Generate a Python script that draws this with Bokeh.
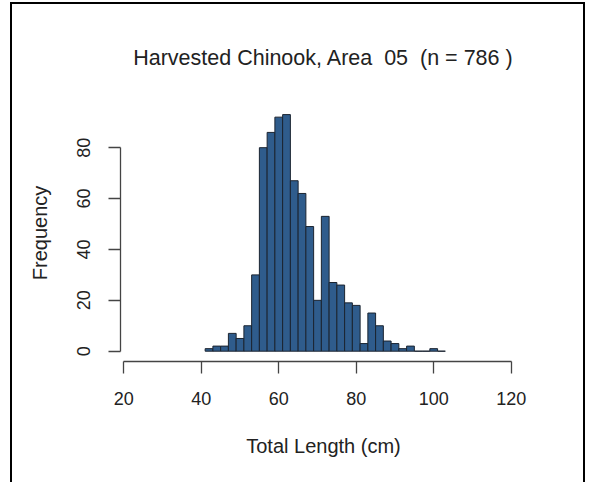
from bokeh.plotting import figure
from bokeh.models import ColumnDataSource, FixedTicker, Range1d
from bokeh.embed import file_html
from bokeh.resources import INLINE

# ---- data ----
bin_left = [41, 43, 45, 47, 49, 51, 53, 55, 57, 59, 61, 63, 65, 67, 69, 71,
            73, 75, 77, 79, 81, 83, 85, 87, 89, 91, 93, 95, 97, 99, 101]
bin_width = 2
counts = [1, 2, 2, 7, 5, 10, 30, 80, 86, 92, 93, 67, 62, 49, 20, 53,
          27, 26, 19, 18, 3, 15, 10, 4, 3, 1, 2, 0, 0, 1, 0]
x_ticks = [20, 40, 60, 80, 100, 120]
y_ticks = [0, 20, 40, 60, 80]
title_text = "Harvested Chinook, Area\u00a0 05\u00a0 (n = 786 )"
x_label = "Total Length (cm)"
y_label = "Frequency"

src = ColumnDataSource(dict(
    left=bin_left,
    right=[b + bin_width for b in bin_left],
    top=counts,
    bottom=[0] * len(counts),
))

FONT = "Liberation Sans"
TXT = "#222222"

# canvas sits at page (12, 4), framed by a CSS border
p = figure(width=575, height=480,
           x_range=Range1d(19.148, 123.95), y_range=Range1d(-4.05, 96.97),
           output_backend="svg", toolbar_location=None,
           min_border_left=108, min_border_right=61,
           min_border_top=100, min_border_bottom=123,
           background_fill_color="white", border_fill_color="white",
           outline_line_color=None)
p.styles = {"margin-left": "10px", "margin-top": "2px",
            "border-left": "2px solid black", "border-top": "2px solid black",
            "border-right": "2px solid black"}

p.quad(left="left", right="right", top="top", bottom="bottom", source=src,
       fill_color="#2f5c8c", line_color="#1b2430", line_width=1)

p.xgrid.visible = False
p.ygrid.visible = False

p.title.text = title_text
p.title.align = "center"
p.title.text_font = FONT
p.title.text_font_size = "21.5px"
p.title.text_font_style = "normal"
p.title.text_color = TXT
p.title.standoff = 70

for ax, ticks, bounds in ((p.xaxis[0], x_ticks, (20, 120)), (p.yaxis[0], y_ticks, (0, 80))):
    ax.ticker = FixedTicker(ticks=ticks)
    ax.bounds = bounds
    ax.axis_line_color = "#444444"
    ax.axis_line_width = 1.3
    ax.major_tick_line_color = "#444444"
    ax.major_tick_line_width = 1.3
    ax.major_tick_out = 12
    ax.major_tick_in = 0
    ax.minor_tick_line_color = None
    ax.major_label_text_font = FONT
    ax.major_label_text_font_size = "18px"
    ax.major_label_text_color = TXT
    ax.axis_label_text_font = FONT
    ax.axis_label_text_font_size = "20px"
    ax.axis_label_text_font_style = "normal"
    ax.axis_label_text_color = TXT

p.xaxis.axis_label = x_label
p.yaxis.axis_label = y_label
p.xaxis.major_label_standoff = 18
p.xaxis.axis_label_standoff = 27
p.yaxis.major_label_orientation = "vertical"
p.yaxis.major_label_standoff = 18
p.yaxis.axis_label_standoff = 24

open("out.html", "w").write(file_html(p, INLINE))
